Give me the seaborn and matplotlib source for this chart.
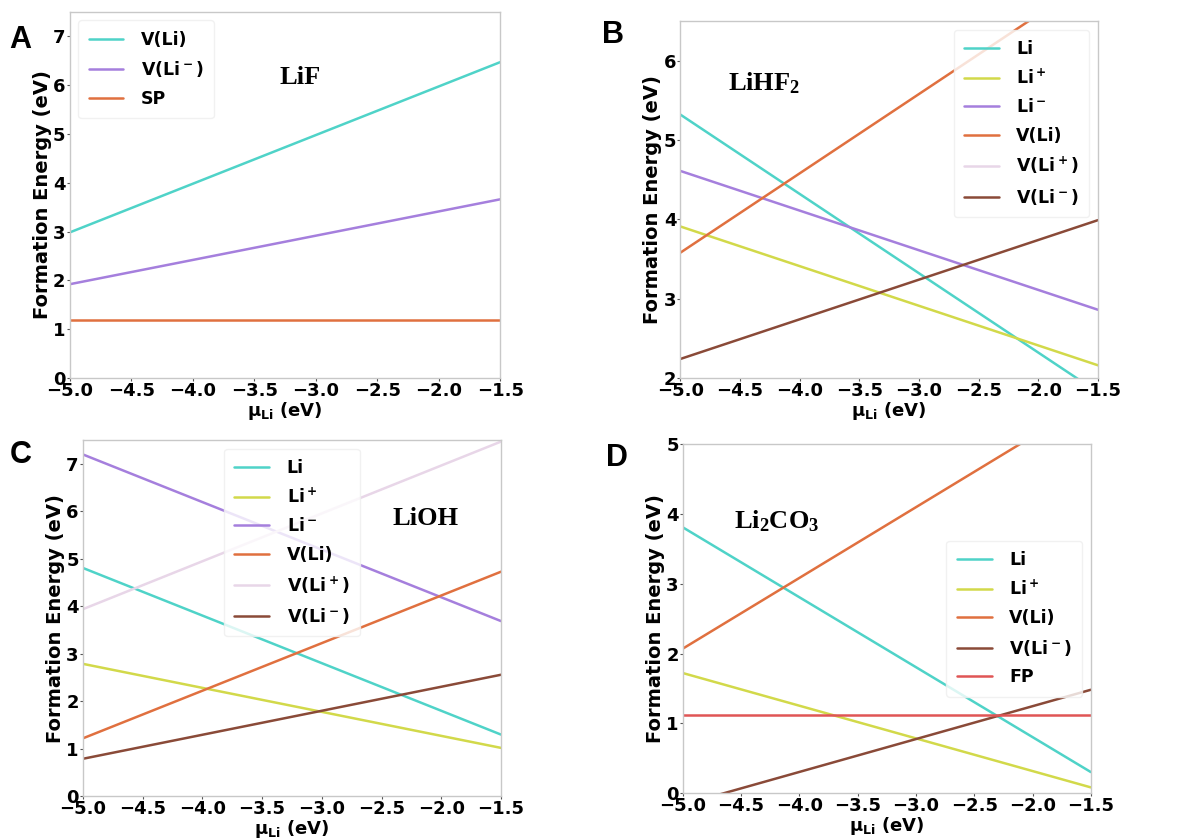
import numpy as np
import pandas as pd
import matplotlib
matplotlib.use("Agg")
import matplotlib.pyplot as plt
import seaborn as sns

sns.set_theme(style="white")
plt.rcParams['font.family'] = ['DejaVu Sans']
plt.rcParams['font.weight'] = 'bold'
plt.rcParams['mathtext.fontset'] = 'custom'
plt.rcParams['mathtext.default'] = 'bf'
plt.rcParams['mathtext.bf'] = 'DejaVu Sans:bold'
plt.rcParams['mathtext.rm'] = 'Liberation Serif:bold'
plt.rcParams['text.color'] = 'black'
plt.rcParams['axes.labelcolor'] = 'black'
plt.rcParams['xtick.color'] = 'black'
plt.rcParams['ytick.color'] = 'black'

# chemical potential endpoints
mu = [-5.0, -1.5]

# Panel A: LiF
a_labels = ['V(Li)', 'V(Li$^-$)', 'SP']
a_vals = [[2.98, 6.47], [1.92, 3.66], [1.19, 1.19]]

# Panel B: LiHF2
b_labels = ['Li', 'Li$^+$', 'Li$^-$', 'V(Li)', 'V(Li$^+$)', 'V(Li$^-$)']
b_vals = [[5.32, 1.82], [3.91, 2.16], [4.61, 2.86], [3.58, 7.08], [8.00, 11.50], [2.24, 3.99]]

# Panel C: LiOH
c_labels = ['Li', 'Li$^+$', 'Li$^-$', 'V(Li)', 'V(Li$^+$)', 'V(Li$^-$)']
c_vals = [[4.81, 1.30], [2.79, 1.02], [7.20, 3.69], [1.22, 4.73], [3.94, 7.47], [0.79, 2.56]]

# Panel D: Li2CO3
d_labels = ['Li', 'Li$^+$', 'V(Li)', 'V(Li$^-$)', 'FP']
d_vals = [[3.81, 0.30], [1.72, 0.08], [2.07, 5.62], [-0.17, 1.48], [1.12, 1.12]]

colors = {
    'Li': '#4FD3C8',
    'Li$^+$': '#D2D94A',
    'Li$^-$': '#A57FDD',
    'V(Li)': '#E0703F',
    'V(Li$^+$)': '#E8D6E8',
    'V(Li$^-$)': '#8A4A38',
    'SP': '#E0703F',
    'FP': '#E05555',
}
a_colors = {'V(Li)': '#4FD3C8', 'V(Li$^-$)': '#A57FDD', 'SP': '#E0703F'}

fig = plt.figure(figsize=(12, 8.4), dpi=100)

panels = [
    dict(labels=a_labels, vals=a_vals, pal=a_colors, pos=[0.058, 0.55, 0.359, 0.436],
         ylim=(0, 7.5), yticks=[0, 1, 2, 3, 4, 5, 6, 7], leg='upper left',
         name='LiF', npos=(0.535, 0.82), letter='A', lpos=(0.008, 0.952)),
    dict(labels=b_labels, vals=b_vals, pal=colors, pos=[0.567, 0.55, 0.348, 0.425],
         ylim=(2, 6.5), yticks=[2, 3, 4, 5, 6], leg='upper right',
         name=r'$\mathrm{LiHF_2}$', npos=(0.20, 0.826), letter='B', lpos=(0.502, 0.958)),
    dict(labels=c_labels, vals=c_vals, pal=colors, pos=[0.069, 0.052, 0.3485, 0.424],
         ylim=(0, 7.5), yticks=[0, 1, 2, 3, 4, 5, 6, 7], leg='upper center',
         name='LiOH', npos=(0.82, 0.78), letter='C', lpos=(0.008, 0.458)),
    dict(labels=d_labels, vals=d_vals, pal=colors, pos=[0.569, 0.056, 0.34, 0.415],
         ylim=(0, 5), yticks=[0, 1, 2, 3, 4, 5], leg='center right',
         name=r'$\mathrm{Li_2CO_3}$', npos=(0.23, 0.78), letter='D', lpos=(0.505, 0.455)),
]

xt = [-5.0, -4.5, -4.0, -3.5, -3.0, -2.5, -2.0, -1.5]

for p in panels:
    ax = fig.add_axes(p['pos'])
    rows = []
    for lab, v in zip(p['labels'], p['vals']):
        for xx, yy in zip(mu, v):
            rows.append(dict(mu=xx, E=yy, defect=lab))
    df = pd.DataFrame(rows)
    sns.lineplot(data=df, x='mu', y='E', hue='defect', hue_order=p['labels'],
                 palette=p['pal'], linewidth=1.8, ax=ax)
    ax.set_xlim(-5.0, -1.5)
    ax.set_ylim(*p['ylim'])
    ax.set_xticks(xt)
    ax.set_xticklabels([f'{t:.1f}'.replace('-', '\u2212') for t in xt])
    ax.set_yticks(p['yticks'])
    ax.tick_params(axis='both', labelsize=13, length=2, width=0.8, pad=1, color='#555555',
                   left=True, bottom=True)
    for lbl in ax.get_xticklabels() + ax.get_yticklabels():
        lbl.set_fontweight('bold')
    for s in ax.spines.values():
        s.set_color('#c8c8c8')
        s.set_linewidth(1.0)
    ax.set_xlabel('\u03bc$_{Li}$ (eV)', fontsize=13, fontweight='bold', labelpad=0)
    ax.set_ylabel('Formation Energy (eV)', fontsize=14, fontweight='bold', labelpad=1)
    leg = ax.legend(loc=p['leg'], fontsize=12.5, frameon=True, handlelength=2.0,
                    borderpad=0.6, labelspacing=0.6, handletextpad=1.0)
    leg.get_frame().set_edgecolor('#eeeeee')
    for t in leg.get_texts():
        t.set_fontweight('bold')
    ax.text(p['npos'][0], p['npos'][1], p['name'], transform=ax.transAxes,
            fontsize=19, fontweight='bold', family='Liberation Serif',
            ha='center', va='center')
    fig.text(p['lpos'][0], p['lpos'][1], p['letter'], fontsize=22, fontweight='bold',
             family='Liberation Sans', ha='left', va='center')

fig.savefig('out.png', dpi=100)
